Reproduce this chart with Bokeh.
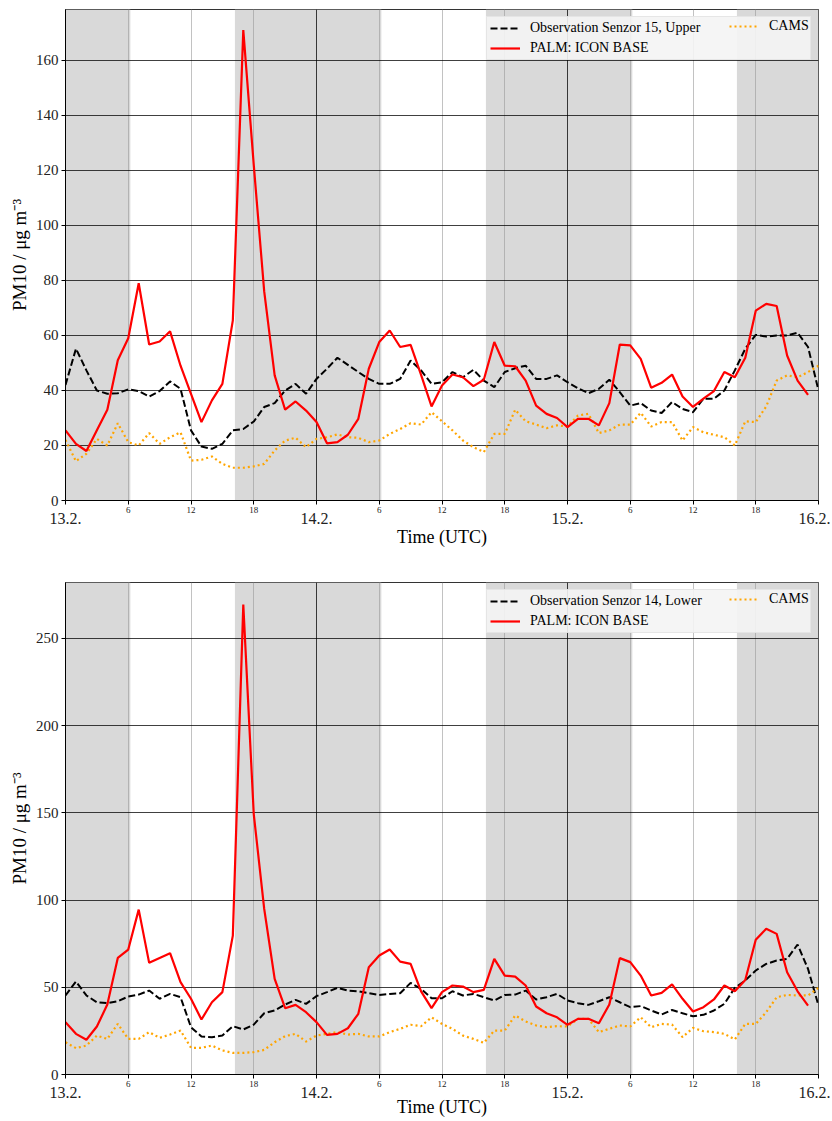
from bokeh.plotting import figure
from bokeh.models import (FixedTicker, LinearAxis, BoxAnnotation, Range1d, Legend, LegendItem)
from bokeh.layouts import column
from bokeh.embed import file_html
from bokeh.resources import INLINE

# ---------------- data ----------------
obs_upper = [42, 55.2, 47.3, 40, 38.8, 39, 40.4, 39.8, 37.8, 39.8,
             43.3, 40.6, 25.5, 19.6, 18.8, 20.6, 25.5, 26, 28.7, 34,
             35.4, 40, 42.4, 38.8, 44.2, 47.9, 51.9, 49.3, 46.7, 44.2,
             42.4, 42.4, 44.2, 50.9, 47.3, 42.4, 43, 46.7, 44.8, 47.5,
             43.6, 41.2, 46.7, 48.1, 49, 44.2, 44.2, 45.5, 43, 40.8,
             39, 40.6, 43.9, 39.4, 34.5, 35.4, 32.7, 31.8, 35.8, 33.3,
             32.1, 37, 37, 40, 47.3, 55.2, 60.2, 59.6, 60, 60,
             61, 55.8, 40]
palm_upper = [25.5, 20.6, 18, 25.5, 33, 51, 59, 79, 56.7, 57.8,
              61.5, 49, 38.8, 28.5, 36.4, 42.4, 65.5, 171, 122, 76,
              45.5, 33, 36, 32.7, 28.5, 20.8, 21.2, 23.9, 29.7, 47.9,
              57.6, 61.8, 55.8, 56.6, 45.7, 34.2, 41.8, 45.8, 44.8, 41.6,
              43.9, 57.6, 49, 48.8, 43.6, 34.5, 31.5, 30, 26.7, 29.7,
              29.7, 27.3, 35.4, 56.7, 56.4, 51.5, 41, 42.8, 45.8, 37.8,
              34, 37, 39.8, 46.7, 44.8, 51.9, 69, 71.5, 70.7, 52.7,
              43.6, 38.4]
cams_upper = [22, 14.3, 17, 22.4, 20, 28.1, 21.2, 20, 24.5, 20.6,
              23, 24.8, 14.5, 14.8, 16, 13.3, 11.9, 11.9, 12.4, 13.3,
              18.2, 21.8, 22.8, 19.4, 22.4, 23, 24, 23, 22.8, 21.2,
              21.8, 24.2, 26, 28.1, 27.6, 32.1, 28.8, 25.5, 21.8, 19.4,
              17.6, 24.2, 24.2, 33, 28.8, 27.6, 26.3, 27.3, 26.9, 30.9,
              31.5, 24.5, 25.5, 27.6, 27.6, 31.9, 26.9, 28.5, 28.5, 21.8,
              26.7, 24.8, 23.9, 23, 20, 28.8, 28.5, 34.2, 43.6, 45.5,
              44.8, 46.7, 49]

obs_lower = [45.3, 53.3, 45.3, 41.4, 40.9, 42, 44.7, 45.8, 48.1, 43.4,
             46.2, 44.3, 27.1, 21.8, 21.4, 22.3, 27.7, 25.8, 28.6, 35.1,
             36.7, 40.1, 42.8, 40.5, 44.9, 47.2, 49.7, 48.1, 47.7, 46.6,
             45.6, 46.2, 46.6, 52.5, 49.1, 43.7, 43.7, 47.7, 45.3, 46.2,
             44.3, 42.4, 45.6, 45.8, 48.1, 43, 44.3, 46.2, 42.4, 40.9,
             39.9, 42, 44.3, 41.4, 38.6, 39.2, 36.7, 34.4, 37, 35.1,
             33.4, 34.2, 36.7, 40.5, 49.7, 53.9, 59.6, 63.4, 65.3, 66.3,
             74.5, 60.5, 39.5]
palm_lower = [30, 23.3, 19.9, 27.5, 40.1, 66.8, 71.6, 94.5, 64, 66.8,
              69.5, 52.9, 43.4, 31.5, 41.4, 47.2, 79.6, 269.3, 149.3, 94.9,
              54.8, 38, 39.9, 35.7, 30, 22.7, 23.3, 26.5, 34.8, 61.5,
              68.2, 71.6, 64.7, 63.4, 47.6, 38, 47.2, 51, 50.4, 47.2,
              48.5, 66.3, 56.7, 56.1, 51, 39, 35.1, 32.8, 28.5, 31.9,
              31.9, 29.4, 40.1, 66.7, 64.4, 56.7, 45.3, 46.8, 51.6, 43.4,
              36.1, 38.6, 43, 51, 47.7, 54.2, 77.2, 83.5, 80.6, 58.6,
              47.7, 39.5]
cams_lower = [18.5, 15.1, 16.6, 22.3, 20.4, 29, 20.4, 20.4, 24.3, 21,
              22.9, 25.2, 15.3, 15.3, 16.6, 13.8, 12.4, 12.4, 12.8, 14.1,
              18.5, 22, 23.3, 18.9, 22.3, 23.3, 24.3, 22.9, 23.3, 21.8,
              21.8, 24.3, 26.2, 28.5, 27.7, 32.8, 29, 26.2, 22.3, 20.4,
              18.1, 25.2, 25.2, 33.8, 30.4, 28.1, 27.1, 27.7, 27.5, 31.9,
              31.9, 24.3, 26.2, 28.1, 27.5, 32.8, 27.1, 29, 28.6, 21.4,
              26.7, 24.8, 24.3, 23.3, 20.1, 29, 29, 35.7, 44.3, 45.6,
              45.3, 45.3, 49.7]

# hours since 13.2. 00 UTC
night_start = [0, 16.2, 40.2, 64.2]
night_end = [6.2, 30.2, 54.2, 72]

day_ticks = [0, 24, 48, 72]
day_labels = ["13.2.", "14.2.", "15.2.", "16.2."]
hour_ticks = [6, 12, 18, 30, 36, 42, 54, 60, 66]
hour_labels = ["6", "12", "18", "6", "12", "18", "6", "12", "18"]

FONT = "Liberation Serif"


def make_panel(obs, palm, cams, obs_label, ymax, yticks, height, top_b, bottom_b,
               time_standoff):
    p = figure(width=830, height=height,
               x_range=Range1d(0, 72), y_range=Range1d(0, ymax),
               output_backend="svg", toolbar_location=None,
               min_border_left=65, min_border_right=12,
               min_border_top=top_b, min_border_bottom=bottom_b)
    p.outline_line_color = "black"
    p.outline_line_alpha = 0.8
    p.outline_line_width = 1

    for s, e in zip(night_start, night_end):
        p.add_layout(BoxAnnotation(left=s, right=e, fill_color="#d9d9d9",
                                   fill_alpha=1.0, line_color=None, level="image"))

    # grids
    p.ygrid.ticker = FixedTicker(ticks=yticks)
    p.ygrid.grid_line_color = "black"
    p.ygrid.grid_line_alpha = 0.75
    p.ygrid.grid_line_width = 1
    p.xgrid.ticker = FixedTicker(ticks=day_ticks, minor_ticks=hour_ticks)
    p.xgrid.grid_line_color = "black"
    p.xgrid.grid_line_alpha = 0.75
    p.xgrid.grid_line_width = 1
    p.xgrid.minor_grid_line_color = "#999999"
    p.xgrid.minor_grid_line_alpha = 0.6
    p.xgrid.minor_grid_line_width = 1

    # y axis
    ya = p.yaxis[0]
    ya.ticker = FixedTicker(ticks=yticks)
    ya.axis_label = "PM10 / \u03bcg m\u207b\u00b3"
    ya.axis_label_text_font = FONT
    ya.axis_label_text_font_size = "19px"
    ya.axis_label_text_font_style = "normal"
    ya.axis_label_text_color = "black"
    ya.axis_label_standoff = 3
    ya.major_label_text_font = FONT
    ya.major_label_text_font_size = "15px"
    ya.major_label_text_color = "#222222"
    ya.major_label_standoff = 3
    ya.major_tick_out = 4
    ya.major_tick_in = 0
    ya.minor_tick_line_color = None
    ya.axis_line_color = "black"

    # x axis: hours
    xa = p.xaxis[0]
    xa.ticker = FixedTicker(ticks=hour_ticks, minor_ticks=day_ticks)
    xa.major_label_overrides = {t: l for t, l in zip(hour_ticks, hour_labels)}
    xa.major_label_text_font = FONT
    xa.major_label_text_font_size = "9px"
    xa.major_label_text_color = "#222222"
    xa.major_label_standoff = 2
    xa.major_tick_out = 4
    xa.major_tick_in = 0
    xa.minor_tick_out = 4
    xa.minor_tick_in = 0
    xa.axis_line_color = "black"

    # x axis: days
    da = LinearAxis(ticker=FixedTicker(ticks=day_ticks),
                    major_label_overrides={t: l for t, l in zip(day_ticks, day_labels)})
    da.axis_line_color = None
    da.major_tick_line_color = None
    da.minor_tick_line_color = None
    da.major_label_text_font = FONT
    da.major_label_text_font_size = "16px"
    da.major_label_text_color = "#222222"
    da.major_label_standoff = -9
    da.axis_label = "Time (UTC)"
    da.axis_label_text_font = FONT
    da.axis_label_text_font_size = "18px"
    da.axis_label_text_font_style = "normal"
    da.axis_label_text_color = "black"
    da.axis_label_standoff = time_standoff
    p.add_layout(da, "below")

    r_obs = p.line(list(range(len(obs))), obs, line_color="black", line_width=2,
                   line_dash="7 3")
    r_cams = p.line(list(range(len(cams))), cams, line_color="orange", line_width=2.2,
                    line_dash="2 3")
    r_palm = p.line(list(range(len(palm))), palm, line_color="red", line_width=2.2)
    r_blank = p.line([], [], line_alpha=0)

    def style(lg):
        lg.label_text_font = FONT
        lg.label_text_font_size = "14px"
        lg.label_text_color = "black"
        lg.label_height = 16
        lg.glyph_height = 16
        lg.glyph_width = 30
        lg.label_standoff = 10
        lg.padding = 3
        lg.spacing = 4
        lg.margin = 7
        lg.location = "top_right"

    leg_a = Legend(items=[LegendItem(label=obs_label, renderers=[r_obs]),
                          LegendItem(label="PALM: ICON BASE", renderers=[r_palm])])
    style(leg_a)
    leg_a.label_width = 277
    leg_a.background_fill_color = "#f4f4f4"
    leg_a.background_fill_alpha = 0.9
    leg_a.border_line_color = "#d8d8d8"
    leg_a.border_line_width = 1

    leg_b = Legend(items=[LegendItem(label="CAMS", renderers=[r_cams]),
                          LegendItem(label=" ", renderers=[r_blank])])
    style(leg_b)
    leg_b.label_width = 40
    leg_b.margin = 9
    leg_b.background_fill_alpha = 0
    leg_b.border_line_color = None

    p.add_layout(leg_a, "center")
    p.add_layout(leg_b, "center")
    return p


p1 = make_panel(obs_upper, palm_upper, cams_upper, "Observation Senzor 15, Upper",
                178.5, [0, 20, 40, 60, 80, 100, 120, 140, 160], 574, 9, 74, 0)
p2 = make_panel(obs_lower, palm_lower, cams_lower, "Observation Senzor 14, Lower",
                282, [0, 50, 100, 150, 200, 250], 546, 8, 46, -4)

layout = column(p1, p2, spacing=0)
open("out.html", "w").write(file_html(layout, INLINE))
